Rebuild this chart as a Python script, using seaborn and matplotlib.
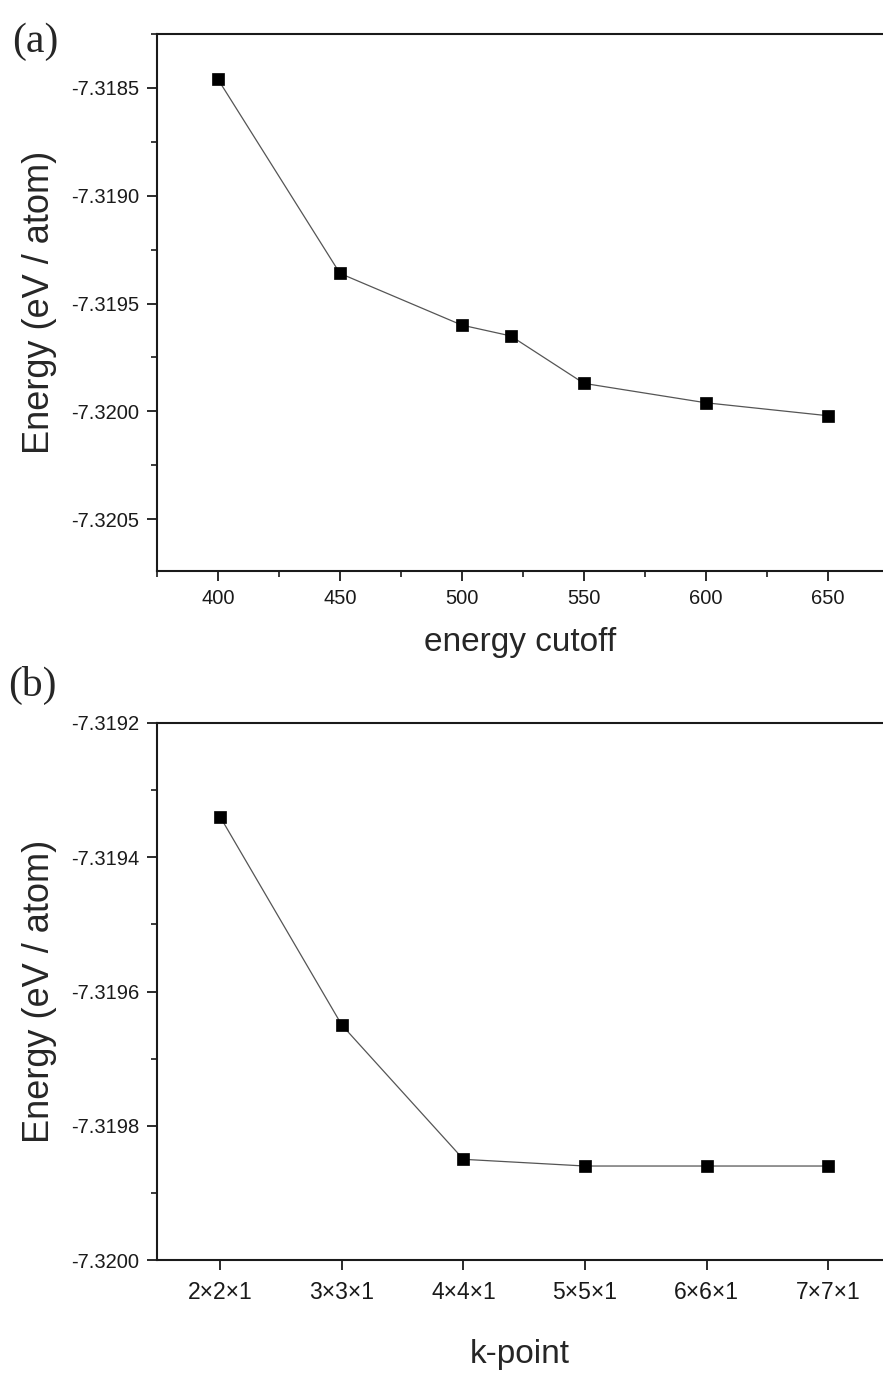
import numpy as np
import pandas as pd
import matplotlib
matplotlib.use("Agg")
import matplotlib.pyplot as plt
from matplotlib.ticker import MultipleLocator, FormatStrFormatter
import seaborn as sns

# ---- data ----
cutoff = [400, 450, 500, 520, 550, 600, 650]
energy_cutoff = [-7.31846, -7.31936, -7.31960, -7.31965, -7.31987, -7.31996, -7.32002]

kpoint_labels = ["2×2×1", "3×3×1", "4×4×1", "5×5×1", "6×6×1", "7×7×1"]
energy_kpoint = [-7.31934, -7.31965, -7.31985, -7.31986, -7.31986, -7.31986]

sns.set_theme(style="ticks")
plt.rcParams["font.family"] = ["Liberation Sans", "DejaVu Sans"]
plt.rcParams["axes.unicode_minus"] = False

fig = plt.figure(figsize=(8.83, 13.76), dpi=100)
ax1 = fig.add_axes([157/883, 1-571/1376, 1-157/883, (571-34)/1376])
ax2 = fig.add_axes([157/883, 1-1260/1376, 1-157/883, (1260-723)/1376])

line_kw = dict(color="#555555", lw=0.9, marker="s", markersize=8.5,
               markerfacecolor="black", markeredgecolor="black", markeredgewidth=0.5)

df1 = pd.DataFrame({"x": cutoff, "y": energy_cutoff})
sns.lineplot(data=df1, x="x", y="y", ax=ax1, **line_kw)

kpos = np.arange(1, len(kpoint_labels) + 1)
df2 = pd.DataFrame({"x": kpos, "y": energy_kpoint})
sns.lineplot(data=df2, x="x", y="y", ax=ax2, **line_kw)

ax1.set_xlim(375, 672.6)
ax1.set_ylim(-7.32074, -7.31825)
ax1.xaxis.set_major_locator(MultipleLocator(50))
ax1.xaxis.set_minor_locator(MultipleLocator(25))
ax1.yaxis.set_major_locator(MultipleLocator(0.0005))
ax1.yaxis.set_minor_locator(MultipleLocator(0.00025))

ax2.set_xlim(0.48, 6.45)
ax2.set_ylim(-7.3200, -7.3192)
ax2.set_xticks(kpos)
ax2.set_xticklabels(kpoint_labels)
ax2.yaxis.set_major_locator(MultipleLocator(0.0002))
ax2.yaxis.set_minor_locator(MultipleLocator(0.0001))

for ax in (ax1, ax2):
    ax.yaxis.set_major_formatter(FormatStrFormatter("%.4f"))
    ax.spines["right"].set_visible(False)
    for s in ("left", "bottom", "top"):
        ax.spines[s].set_linewidth(1.5)
        ax.spines[s].set_color("#1a1a1a")
    ax.tick_params(which="major", direction="out", length=7, width=1.3,
                   labelsize=14.5, pad=6, colors="#1a1a1a", top=False, right=False)
    ax.tick_params(which="minor", direction="out", length=4, width=1.2,
                   colors="#1a1a1a", top=False, right=False)
    ax.set_ylabel("Energy (eV / atom)", fontsize=26, labelpad=10)

ax2.tick_params(axis="x", which="major", labelsize=16.5, pad=8)
ax1.set_xlabel("energy cutoff", fontsize=24, labelpad=14)
ax2.set_xlabel("k-point", fontsize=24, labelpad=25)
ax2.xaxis.set_minor_locator(plt.NullLocator())

fig.text(12/883, 1-42/1376, "(a)", fontsize=30, family=["Liberation Serif"], va="center", ha="left")
fig.text(8/883, 1-685/1376, "(b)", fontsize=30, family=["Liberation Serif"], va="center", ha="left")

fig.savefig("out.png", dpi=100, facecolor="white")
